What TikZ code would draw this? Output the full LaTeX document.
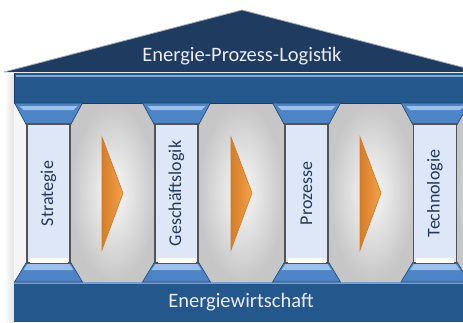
\documentclass[tikz,border=0pt]{standalone}
\usepackage{fontspec}
\setmainfont{Carlito}
\usetikzlibrary{calc}
\definecolor{roofblue}{HTML}{1F3B5F}
\definecolor{beamblue}{HTML}{24578C}
\definecolor{capblue}{HTML}{4C84C6}
\definecolor{caplight}{HTML}{9CC0EA}
\definecolor{shaftblue}{HTML}{DDE7F8}
\definecolor{textnavy}{HTML}{23395B}
\definecolor{arroworange}{HTML}{F7A04A}
\definecolor{orangedark}{HTML}{D07A25}

\begin{document}
\begin{tikzpicture}[x=1pt,y=-1pt,
   shaft/.style={draw=gray!65!black,line width=1.1pt,fill=shaftblue,rotate=90,
      minimum width=139pt,minimum height=43pt,inner sep=0pt,text=textnavy,
      font=\fontsize{18}{20}\selectfont},
   capital/.style={fill=capblue,draw=beamblue!80!black,line width=0.6pt},
   bevel/.style={fill=caplight},
   panel/.style={inner color=gray!5,outer color=gray!45},
   flow/.style={draw=orangedark,line width=0.6pt,left color=orangedark!90!arroworange,right color=arroworange},
   title/.style={text=white!92!blue,font=\fontsize{20.5}{23}\selectfont}]
   \useasboundingbox (0,0) rectangle (463,322);
   \clip (0,0) rectangle (463,322);
   % shadow on the left
   \fill[left color=white,right color=gray!22] (4,75) rectangle (14,322);
   % gray panels between the columns
   \foreach \x in {70,198,328} {
      \fill[panel] (\x,103) rectangle (\x+87,282);
   }
   \fill[panel] (456,103) rectangle (543,282);
   \fill[gray!8] (14,103) rectangle (27,282);
   % roof and beam
   \coordinate (apex) at (242,10);
   \fill[roofblue] (4,72) -- (apex) -- (481,72) -- cycle;
   \draw[white!60!roofblue,line width=0.8pt] (4,72) -- (apex) -- (481,72);
   \fill[beamblue] (14,73) rectangle (475,103);
   \draw[caplight!80!beamblue,line width=1.5pt] (16,76) -- (475,76);
   \draw[roofblue,line width=1pt] (14,73) -- (14,103) -- (475,103);
   \node[title] (roof) at (242,56) {Energie-Prozess-Logistik};
   % base slab
   \fill[beamblue] (14,282) rectangle (475,322);
   \draw[caplight!70!beamblue,line width=1.2pt] (14,283) -- (475,283);
   \node[title] (base) at (241,302) {Energiewirtschaft};
   % columns
   \foreach \x/\name/\txt in {48.5/strat/Strategie,176.5/logik/Geschäftslogik,
                              306.5/proz/Prozesse,435/tech/Technologie} {
      \draw[capital] (\x-34,103) -- (\x+34,103) -- (\x+22,125) -- (\x-22,125) -- cycle;
      \fill[bevel] (\x-29,106) -- (\x+29,106) -- (\x+25,110) -- (\x-25,110) -- cycle;
      \draw[capital] (\x-22,262) -- (\x+22,262) -- (\x+34,282) -- (\x-34,282) -- cycle;
      \fill[bevel] (\x-21,264) -- (\x+21,264) -- (\x+25,270) -- (\x-25,270) -- cycle;
      \node[shaft] (\name) at (\x,193.5) {\txt};
      \fill[white] ($(\name.west)+(-19,-6)$) rectangle ($(\name.west)+(19,-1)$);
   }
   % orange arrows
   \foreach \x in {102,231,360} {
      \draw[flow] (\x,137) -- (\x+21,193) -- (\x,250) -- cycle;
   }
\end{tikzpicture}
\end{document}
